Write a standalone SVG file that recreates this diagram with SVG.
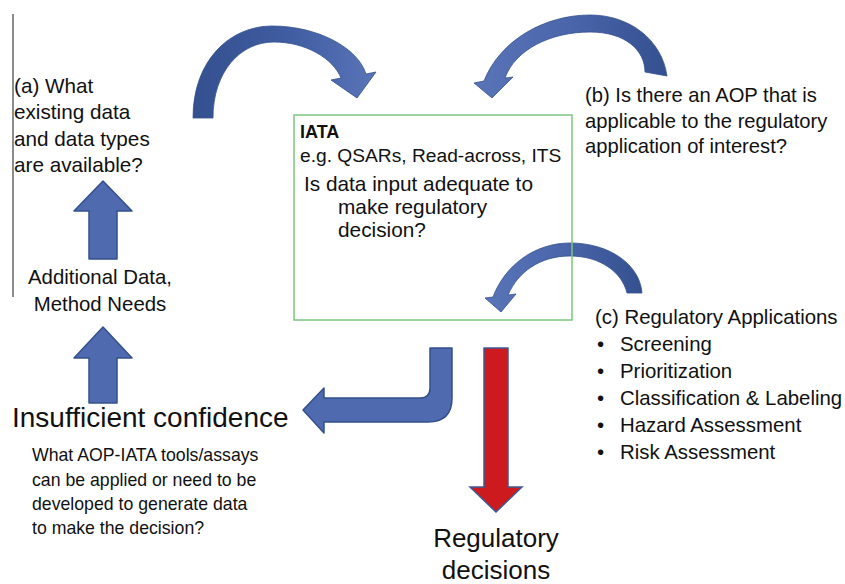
<svg xmlns="http://www.w3.org/2000/svg" width="845" height="584" viewBox="0 0 845 584">
<style>
text{font-family:"Liberation Sans",Arial,sans-serif;fill:#111}
.blk{fill:#4f6aae;stroke:#33508c;stroke-width:1.5;stroke-linejoin:round}
.red{fill:#cc1a1e;stroke:#3e5a94;stroke-width:1.5}
.cv{stroke:#33508c;stroke-width:0.8;stroke-linejoin:round}
</style>
<defs>
<linearGradient id="gL" x1="0" y1="0" x2="1" y2="0"><stop offset="0" stop-color="#34508f"/><stop offset="0.5" stop-color="#3f5ca0"/><stop offset="1" stop-color="#5a74b8"/></linearGradient>
<linearGradient id="gR" x1="0" y1="0" x2="1" y2="0"><stop offset="0" stop-color="#5a74b8"/><stop offset="0.5" stop-color="#4a65aa"/><stop offset="1" stop-color="#34508f"/></linearGradient>
</defs>
<rect width="845" height="584" fill="#fff"/>
<line x1="13" y1="14" x2="13" y2="297" stroke="#666" stroke-width="1.5"/>

<g id="connectors">
<path class="cv" fill="url(#gL)" d="M193,118 C193,60 230,26 272,26 C318,26 358,48 366,74 L376,72 L357,98 L331,80 L341,78 C333,58 305,42 274,42 C240,42 213,72 213,118 Z"/>
<path class="cv" fill="url(#gR)" d="M667,76 C662,40 630,15 590,15 C545,15 500,40 484,81 L474,83 L492,98 L513,77 L505,78 C515,50 550,32 590,32 C625,32 645,50 645,72 Z"/>
<path class="cv" fill="url(#gR)" d="M642,293 C640,265 610,243 570,243 C535,243 505,265 493,297 L485,298 L501,312 L516,294 L508,295 C518,272 540,256 570,256 C600,256 622,272 627,293 Z"/>
<path class="blk" d="M89,259 L89,211 L74,211 L103,181 L132,211 L117,211 L117,259 Z"/>
<path class="blk" d="M89,403 L89,358 L74,358 L103,327 L132,358 L117,358 L117,403 Z"/>
<path class="blk" d="M430,348 L452,348 L452,398 Q452,422 428,422 L324,422 L324,433 L303,410 L324,388 L324,398 L420,398 Q430,398 430,388 Z"/>
<path class="red" d="M484,348 L508,348 L508,487 L522,487 L496,512 L470,487 L484,487 Z"/>
</g>

<g id="iata">
<rect x="294" y="115" width="278" height="205" fill="none" stroke="#7cc87c" stroke-width="1.5"/>
<text x="300" y="138" font-size="18" font-weight="bold">IATA</text>
<text x="300" y="162" font-size="19.2">e.g. QSARs, Read-across, ITS</text>
<text x="304" y="191" font-size="20.8">Is data input adequate to</text>
<text x="338" y="214" font-size="20.8">make regulatory</text>
<text x="338" y="237" font-size="20.8">decision?</text>
</g>

<g id="node-a" font-size="20.7">
<text x="14" y="93">(a) What</text>
<text x="14" y="119">existing data</text>
<text x="14" y="146">and data types</text>
<text x="14" y="172">are available?</text>
</g>

<g id="node-b" font-size="20.2">
<text x="585" y="102">(b) Is there an AOP that is</text>
<text x="585" y="128">applicable to the regulatory</text>
<text x="585" y="153">application of interest?</text>
</g>

<g id="node-c" font-size="20.4">
<text x="595" y="324">(c) Regulatory Applications</text>
<text x="597" y="351">•</text><text x="620" y="351">Screening</text>
<text x="597" y="378">•</text><text x="620" y="378">Prioritization</text>
<text x="597" y="405">•</text><text x="620" y="405">Classification &amp; Labeling</text>
<text x="597" y="432">•</text><text x="620" y="432">Hazard Assessment</text>
<text x="597" y="459">•</text><text x="620" y="459">Risk Assessment</text>
</g>

<g id="node-needs" font-size="20.4" text-anchor="middle">
<text x="100" y="284">Additional Data,</text>
<text x="100" y="311">Method Needs</text>
</g>

<g id="node-insufficient">
<text x="12" y="427" font-size="28">Insufficient confidence</text>
<g font-size="17.7">
<text x="32" y="461">What AOP-IATA tools/assays</text>
<text x="32" y="486">can be applied or need to be</text>
<text x="32" y="510">developed to generate data</text>
<text x="32" y="534">to make the decision?</text>
</g>
</g>

<g id="node-decisions" font-size="26" text-anchor="middle">
<text x="496" y="547">Regulatory</text>
<text x="496" y="579">decisions</text>
</g>
</svg>
